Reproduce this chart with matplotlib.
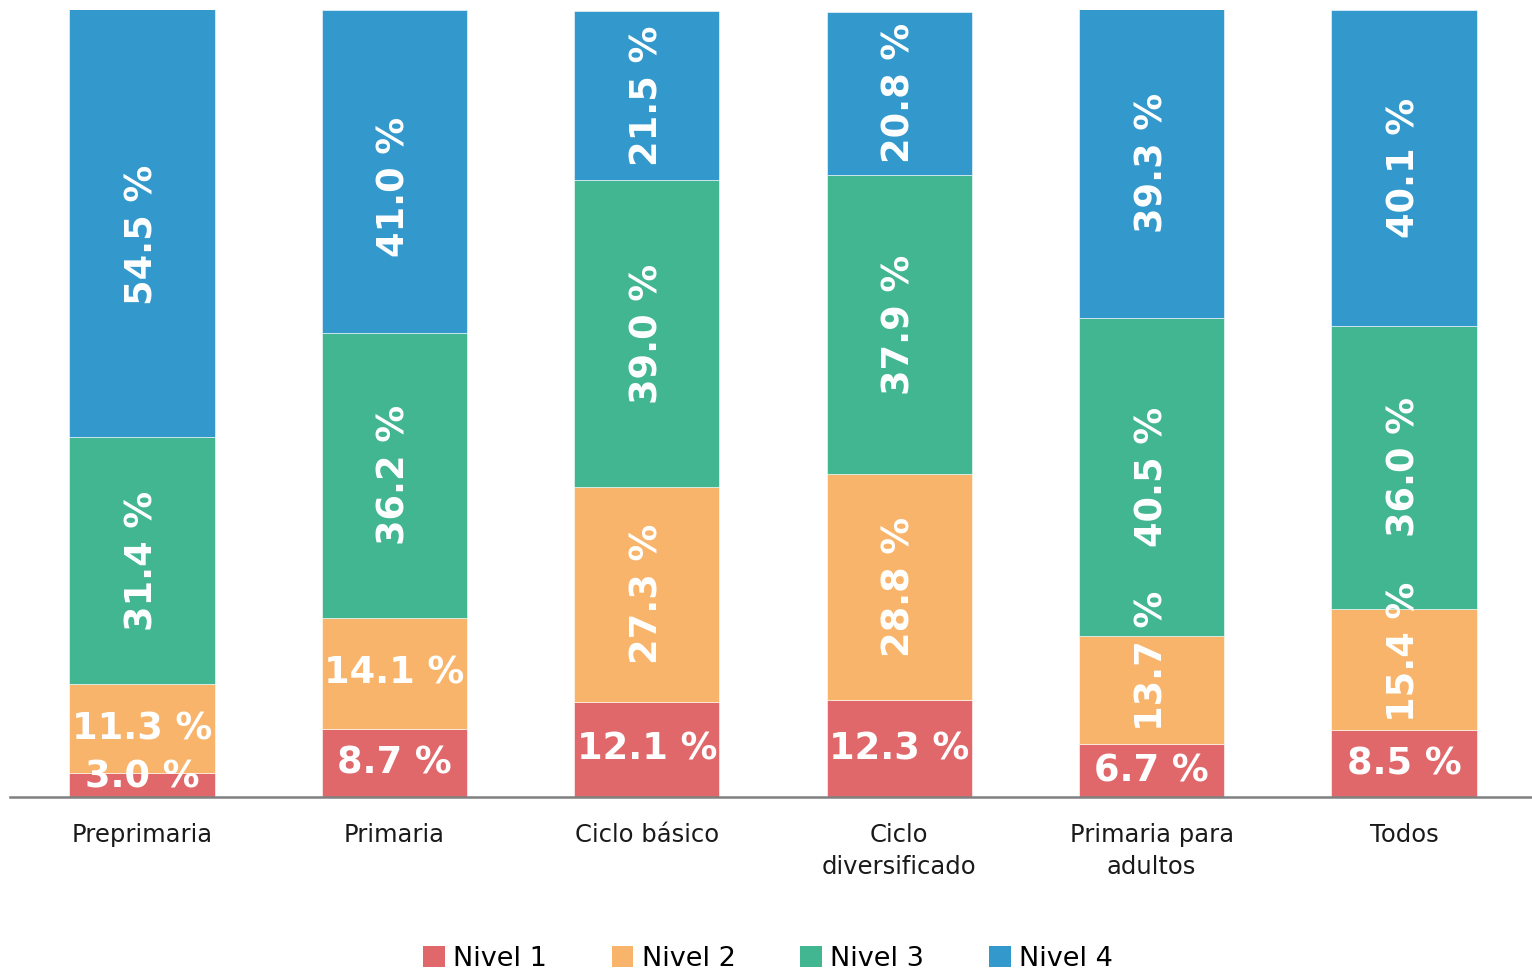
import matplotlib
matplotlib.use("Agg")
import matplotlib.pyplot as plt
from matplotlib.patches import Patch
import numpy as np

categories = ["Preprimaria", "Primaria", "Ciclo básico", "Ciclo\ndiversificado",
              "Primaria para\nadultos", "Todos"]
series_names = ["Nivel 1", "Nivel 2", "Nivel 3", "Nivel 4"]
nivel1 = [3.0, 8.7, 12.1, 12.3, 6.7, 8.5]
nivel2 = [11.3, 14.1, 27.3, 28.8, 13.7, 15.4]
nivel3 = [31.4, 36.2, 39.0, 37.9, 40.5, 36.0]
nivel4 = [54.5, 41.0, 21.5, 20.8, 39.3, 40.1]
colors = ["#E0686A", "#F9B46B", "#42B591", "#3399CC"]

# rotation per series per category (0 = horizontal, 90 = vertical)
rot = [
    [0, 0, 0, 0, 0, 0],
    [0, 0, 90, 90, 90, 90],
    [90, 90, 90, 90, 90, 90],
    [90, 90, 90, 90, 90, 90],
]
# manual label nudges (series index, category index) -> y shift in % units
nudge = {(0, 0): 1.0, (1, 4): 3.7, (1, 5): 2.3, (3, 0): -1.5, (3, 1): -2.0}

fig = plt.figure(figsize=(15.32, 9.72), dpi=100)
ax = fig.add_axes([10 / 1532, 175 / 972, 1 - 10 / 1532, (797 - 10) / 972])

x = np.arange(len(categories))
width = 0.575
bottom = np.zeros(len(categories))
for si, (vals, c) in enumerate(zip([nivel1, nivel2, nivel3, nivel4], colors)):
    vals = np.array(vals)
    ax.bar(x, vals, width, bottom=bottom, color=c, edgecolor="white", linewidth=0.4)
    for i, v in enumerate(vals):
        ax.text(x[i], bottom[i] + v / 2 + nudge.get((si, i), 0.0), f"{v:.1f} %",
                ha="center", va="center",
                rotation=rot[si][i], rotation_mode="anchor",
                color="white", fontsize=26.5, fontweight="bold", family="DejaVu Sans")
    bottom += vals

ax.set_xlim(-0.523, 5.507)
ax.set_ylim(0, 100)
for s in ["top", "right", "left"]:
    ax.spines[s].set_visible(False)
ax.spines["bottom"].set_color("#808080")
ax.spines["bottom"].set_linewidth(1.8)
ax.set_yticks([])
ax.set_xticks(x)
ax.set_xticklabels(categories, fontsize=17.5, color="#1a1a1a", linespacing=1.4)
ax.tick_params(axis="x", length=0, pad=19)

handles = [Patch(facecolor=c, label=n) for c, n in zip(colors, series_names)]
fig.legend(handles=handles, loc="lower center", bbox_to_anchor=(768 / 1532, -0.025),
           ncol=4, frameon=False, fontsize=19.5, handlelength=0.8, handleheight=0.8,
           handletextpad=0.3, columnspacing=2.4)

fig.savefig("out.png", dpi=100)
